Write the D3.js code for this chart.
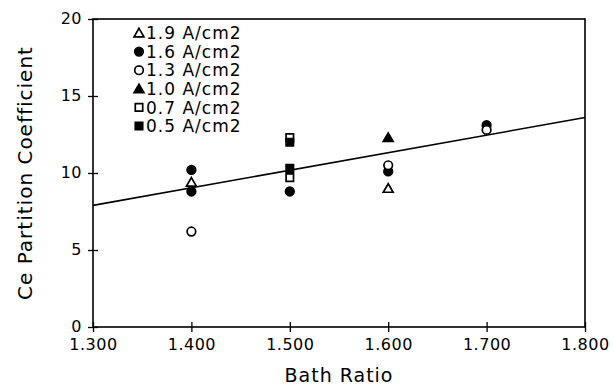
<!DOCTYPE html>
<html lang="en">
<head>
<meta charset="UTF-8">
<title>Ce Partition Coefficient vs Bath Ratio</title>
<script src="https://d3js.org/d3.v7.min.js"></script>
<style>
    body { margin: 0; background: #fff; }
    text { font-family: "DejaVu Sans", sans-serif; fill: #000; }
</style>
</head>
<body>
<main></main>
<script>
    // data
    var seriesNames = ['1.9 A/cm2', '1.6 A/cm2', '1.3 A/cm2', '1.0 A/cm2', '0.7 A/cm2', '0.5 A/cm2'];
    var seriesSymbols = ['triangle-open', 'circle-filled', 'circle-open', 'triangle-filled', 'square-open', 'square-filled'];

    var pts19 = [[1.4, 9.4], [1.6, 9.0]];
    var pts16 = [[1.4, 10.2], [1.4, 8.8], [1.5, 8.8], [1.6, 10.1], [1.7, 13.1]];
    var pts13 = [[1.4, 6.2], [1.6, 10.5], [1.7, 12.8]];
    var pts10 = [[1.6, 12.3]];
    var pts07 = [[1.5, 12.3], [1.5, 9.7]];
    var pts05 = [[1.5, 12.0], [1.5, 10.3]];
    var allPts = [pts19, pts16, pts13, pts10, pts07, pts05];

    // fitted line end points
    var fitX = [1.3, 1.8];
    var fitY = [7.9, 13.6];

    var xTicks = [1.3, 1.4, 1.5, 1.6, 1.7, 1.8];
    var yTicks = [0, 5, 10, 15, 20];

    var w = 613, h = 386;
    var m = {top: 19, left: 93, bottom: 59, right: 28};

    var x = d3.scaleLinear().domain([1.3, 1.8]).range([m.left, w - m.right]);
    var y = d3.scaleLinear().domain([0, 20]).range([h - m.bottom, m.top]);

    var svg = d3.select('main').append('svg')
        .attr('width', w)
        .attr('height', h);

    // frame
    svg.append('rect')
        .attr('x', x(1.3)).attr('y', y(20))
        .attr('width', x(1.8) - x(1.3)).attr('height', y(0) - y(20))
        .attr('fill', 'none').attr('stroke', '#000').attr('stroke-width', 1.6);

    var xAxis = d3.axisBottom(x).tickValues(xTicks).tickFormat(d3.format('.3f')).tickSize(5).tickPadding(7);
    var yAxis = d3.axisLeft(y).tickValues(yTicks).tickSize(5).tickPadding(6);

    var gx = svg.append('g').attr('transform', 'translate(0,' + y(0) + ')').call(xAxis);
    var gy = svg.append('g').attr('transform', 'translate(' + x(1.3) + ',0)').call(yAxis);

    [gx, gy].forEach(function(g){
        g.select('.domain').remove();
        g.selectAll('line').attr('stroke', '#000').attr('stroke-width', 1.3);
        g.selectAll('text').style('font-size', '16px').style('letter-spacing', '0.5px').attr('fill', '#000');
    });
    // ticks cross the axis
    gx.selectAll('.tick line').attr('y1', -5).attr('y2', 5);
    gy.selectAll('.tick line').attr('x1', -5).attr('x2', 5);
    gy.selectAll('.tick text').attr('dy', '0.26em');

    // axis titles
    svg.append('text')
        .attr('transform', 'translate(25,' + ((y(0) + y(20)) / 2) + ') rotate(-90)')
        .attr('text-anchor', 'middle').attr('dy', '0.35em')
        .style('font-size', '20px').style('letter-spacing', '1px')
        .text('Ce Partition Coefficient');

    svg.append('text')
        .attr('x', (x(1.3) + x(1.8)) / 2).attr('y', 382)
        .attr('text-anchor', 'middle')
        .style('font-size', '19px').style('letter-spacing', '1px')
        .text('Bath Ratio');

    // fit line
    svg.append('line')
        .attr('x1', x(fitX[0])).attr('y1', y(fitY[0]))
        .attr('x2', x(fitX[1])).attr('y2', y(fitY[1]))
        .attr('stroke', '#000').attr('stroke-width', 1.6);

    function drawSymbol(g, kind, cx, cy) {
        var shape = kind.indexOf('triangle') === 0 ? d3.symbolTriangle
                  : kind.indexOf('square') === 0 ? d3.symbolSquare : d3.symbolCircle;
        var size = shape === d3.symbolTriangle ? 42 : shape === d3.symbolSquare ? 55 : 58;
        var filled = kind.indexOf('filled') > 0;
        var dy = shape === d3.symbolTriangle ? 1 : 0;
        g.append('path')
            .attr('d', d3.symbol().type(shape).size(size))
            .attr('transform', 'translate(' + cx + ',' + (cy + dy) + ')')
            .attr('fill', filled ? '#000' : '#fff')
            .attr('stroke', '#000').attr('stroke-width', 1.7);
    }

    var marks = svg.append('g');
    allPts.forEach(function(pts, i){
        pts.forEach(function(p){
            drawSymbol(marks, seriesSymbols[i], x(p[0]), y(p[1]));
        });
    });

    // legend
    var leg = svg.append('g');
    seriesNames.forEach(function(name, i){
        var ly = 33 + i * 18.6;
        drawSymbol(leg, seriesSymbols[i], 139, ly);
        leg.append('text')
            .attr('x', 146).attr('y', ly).attr('dy', '0.36em')
            .style('font-size', '17px').style('letter-spacing', '1px')
            .text(name);
    });
</script>
</body>
</html>
